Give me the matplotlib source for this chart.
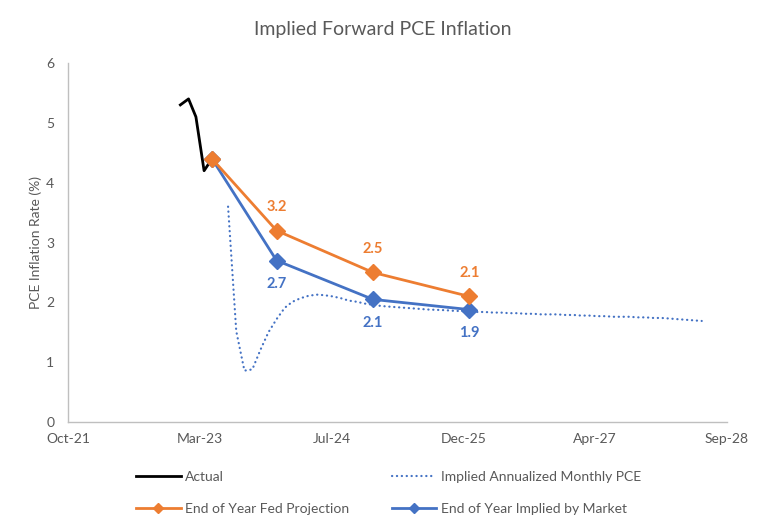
import pandas as pd
import matplotlib
matplotlib.use("Agg")
import matplotlib.pyplot as plt
import matplotlib.dates as mdates
from matplotlib.lines import Line2D

plt.rcParams['font.family'] = ['Lato', 'DejaVu Sans']

GREY = '#595959'
ORANGE = '#ED7D31'
BLUE = '#4472C4'

# actual PCE (month end)
actual_dates = pd.to_datetime(["2022-12-31", "2023-01-31", "2023-02-28", "2023-03-31", "2023-04-30"])
actual_vals = [5.3, 5.4, 5.1, 4.2, 4.4]

# end-of-year points
eoy_dates = pd.to_datetime(["2023-04-30", "2023-12-31", "2024-12-31", "2025-12-31"])
fed_vals = [4.4, 3.2, 2.5, 2.1]
market_vals = [4.4, 2.7, 2.05, 1.88]
fed_labels = ["", "3.2", "2.5", "2.1"]
market_labels = ["", "2.7", "2.1", "1.9"]

# implied annualized monthly PCE, Jun-2023 .. May-2028
implied_vals = [3.6, 1.52, 0.86, 0.88, 1.21, 1.50, 1.72,
                1.91, 2.01, 2.07, 2.11, 2.13, 2.12, 2.10, 2.07, 2.03, 2.01, 1.98, 1.96,
                1.94, 1.93, 1.92, 1.91, 1.90, 1.89, 1.88, 1.875, 1.87, 1.86, 1.855, 1.85,
                1.84, 1.84, 1.83, 1.83, 1.82, 1.82, 1.81, 1.81, 1.80, 1.80, 1.80, 1.79,
                1.79, 1.78, 1.78, 1.77, 1.77, 1.76, 1.76, 1.76, 1.75, 1.75, 1.74, 1.74,
                1.73, 1.72, 1.71, 1.70, 1.69]
implied_dates = pd.date_range("2023-06-30", periods=len(implied_vals), freq="ME")

tick_dates = pd.to_datetime(["2021-10-31", "2023-03-15", "2024-07-27",
                             "2025-12-09", "2027-04-22", "2028-09-03"])

DOTS = (0, (0.1, 2.1))

fig = plt.figure(figsize=(7.65, 5.25), dpi=100)
ax = fig.add_axes([0.089, 0.196, 0.861, 0.684])

ax.plot(actual_dates, actual_vals, color='black', lw=2)
ax.plot(implied_dates, implied_vals, color=BLUE, lw=1.6,
        linestyle=DOTS, dash_capstyle='round')
ax.plot(eoy_dates, market_vals, color=BLUE, lw=2, marker='D', markersize=8)
ax.plot(eoy_dates, fed_vals, color=ORANGE, lw=2, marker='D', markersize=8)

for d, v, s in zip(eoy_dates, fed_vals, fed_labels):
    if s:
        ax.annotate(s, (d, v), xytext=(0, 17), textcoords='offset points',
                    ha='center', va='center', color=ORANGE, fontsize=10.5, fontweight='bold')
for d, v, s in zip(eoy_dates, market_vals, market_labels):
    if s:
        ax.annotate(s, (d, v), xytext=(0, -17), textcoords='offset points',
                    ha='center', va='center', color=BLUE, fontsize=10.5, fontweight='bold')

ax.set_xlim(tick_dates[0], tick_dates[-1])
ax.set_ylim(0, 6)
ax.set_xticks(tick_dates)
ax.xaxis.set_major_formatter(mdates.DateFormatter('%b-%y'))
ax.set_yticks(range(0, 7))
ax.tick_params(length=0, colors=GREY, labelsize=10, pad=8)
ax.tick_params(axis='y', pad=10)
for side in ['top', 'right']:
    ax.spines[side].set_visible(False)
for side in ['left', 'bottom']:
    ax.spines[side].set_color('#BFBFBF')
    ax.spines[side].set_linewidth(1)

ax.set_ylabel("PCE Inflation Rate (%)", color=GREY, fontsize=10, labelpad=3)
fig.text(0.5, 0.944, "Implied Forward PCE Inflation", ha='center', va='center',
         color=GREY, fontsize=14)

handles = [
    Line2D([], [], color='black', lw=2),
    Line2D([], [], color=ORANGE, lw=2, marker='D', markersize=5),
    Line2D([], [], color=BLUE, lw=1.6, linestyle=DOTS, dash_capstyle='round'),
    Line2D([], [], color=BLUE, lw=2, marker='D', markersize=5),
]
labels = ["Actual", "End of Year Fed Projection",
          "Implied Annualized Monthly PCE", "End of Year Implied by Market"]
leg = fig.legend(handles, labels, ncol=2, loc='upper left',
                 bbox_to_anchor=(0.178, 0.103), frameon=False, fontsize=10,
                 handlelength=3.2, handletextpad=0.3, columnspacing=3.1,
                 labelspacing=1.45, borderaxespad=0, borderpad=0)
for t in leg.get_texts():
    t.set_color(GREY)

fig.savefig("out.png", dpi=100)
